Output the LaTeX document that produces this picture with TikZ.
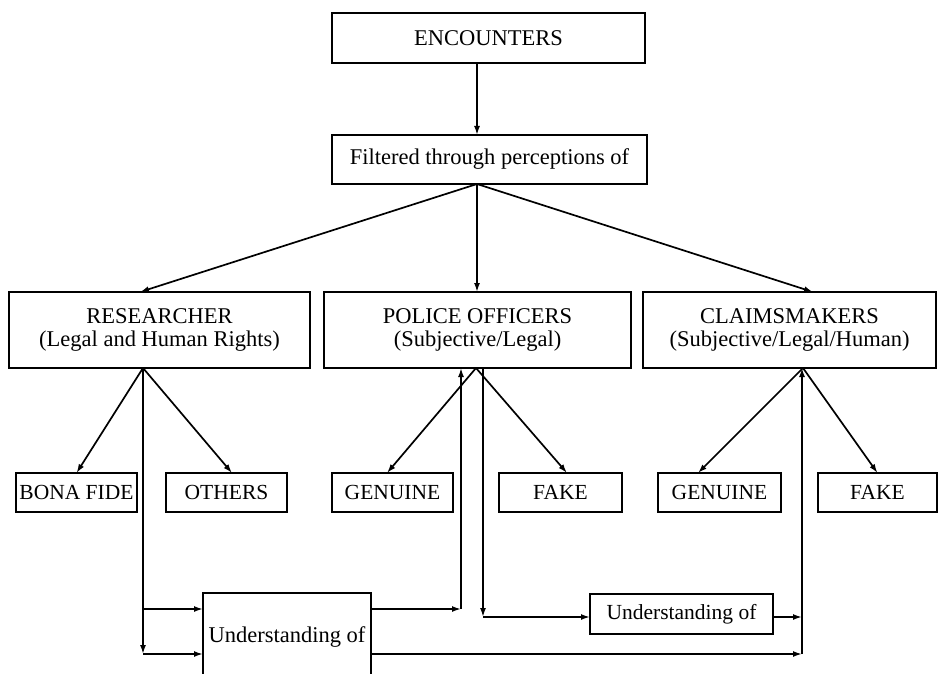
\documentclass[tikz,border=0pt]{standalone}
\usepackage{fontspec}
\setmainfont{Liberation Serif}
\usetikzlibrary{arrows.meta,calc}

\begin{document}
\begin{tikzpicture}[x=1pt,y=-1pt,inner sep=0pt,outer sep=0pt,line width=1.2pt,
box/.style={draw,rectangle,align=center,line width=1.3pt,font=\fontsize{22.5}{23.5}\selectfont},
bigbox/.style={box,minimum height=76pt},
smallbox/.style={box,minimum height=39pt,font=\fontsize{21.5}{23}\selectfont},
link/.style={->,line width=1.7pt},
>={Latex[length=9pt,width=6pt]}]

\useasboundingbox (0,0) rectangle (939,674);
\clip (0,0) rectangle (939,674);

% top of the chart
\node[box,minimum width=313pt,minimum height=50pt] (enc) at (488.5,38) {ENCOUNTERS};
\node[box,minimum width=315pt,minimum height=49pt] (filt) at (489.5,159.5) {Filtered through perceptions of};

% the three viewpoints
\node[bigbox,minimum width=301pt] (res) at (159.5,330) {RESEARCHER\\(Legal and Human Rights)};
\node[bigbox,minimum width=307pt] (pol) at (477.5,330) {POLICE OFFICERS\\(Subjective/Legal)};
\node[bigbox,minimum width=293pt] (clm) at (789.5,330) {CLAIMSMAKERS\\(Subjective/Legal/Human)};

% categories
\node[smallbox,minimum width=121pt] (bona) at (76.5,492.5) {BONA FIDE};
\node[smallbox,minimum width=121pt] (oth) at (226.5,492.5) {OTHERS};
\node[smallbox,minimum width=121pt] (gen1) at (392.5,492.5) {GENUINE};
\node[smallbox,minimum width=123pt] (fake1) at (560.5,492.5) {FAKE};
\node[smallbox,minimum width=123pt] (gen2) at (719.5,492.5) {GENUINE};
\node[smallbox,minimum width=119pt] (fake2) at (877.5,492.5) {FAKE};

% understanding boxes
\node[box,minimum width=168pt,minimum height=88pt] (und1) at (287,637) {Understanding of};
\node[smallbox,minimum width=183pt,minimum height=40pt] (und2) at (681.5,614) {Understanding of};

% branching points
\coordinate (fa) at (477,184);
\coordinate (ra) at ($(res.south)+(-16.5,0)$);
\coordinate (pa) at ($(pol.south)+(-1.5,0)$);
\coordinate (ca) at ($(clm.south)+(13.5,0)$);
\coordinate (d1) at (143,654);
\coordinate (d2) at (143,609);
\coordinate (e1) at (461,609);
\coordinate (e2) at (483,617);
\coordinate (e3) at (802,617);
\coordinate (e4) at (802,654);

\draw[link] (enc.south -| fa) -- (filt.north -| fa);
\draw[link] (fa) -- ($(res.north)+(-19.5,0)$);
\draw[link] (fa) -- (pol.north -| fa);
\draw[link] (fa) -- ($(clm.north)+(23.5,0)$);

\draw[link] (ra) -- (bona.north);
\draw[link] (ra) -- ($(oth.north)+(5.5,0)$);
\draw[link] (pa) -- ($(gen1.north)+(-5.5,0)$);
\draw[link] (pa) -- ($(fake1.north)+(6.5,0)$);
\draw[link] (ca) -- ($(gen2.north)+(-21.5,0)$);
\draw[link] (ca) -- (fake2.north);

% feedback through understanding
\draw[link] (ra) -- (d1);
\draw[link] (d2) -- (d2 -| und1.west);
\draw[link] (d1) -- (d1 -| und1.west);
\draw[link] (e1 -| und1.east) -- (e1);
\draw[link] (e1) -- (e1 |- pol.south);
\draw[link] (e2 |- pol.south) -- (e2);
\draw[link] (e2) -- (e2 -| und2.west);
\draw[link] (e3 -| und2.east) -- (e3);
\draw[link] (d1 -| und1.east) -- (e4);
\draw[link] (e4) -- (e4 |- clm.south);
\end{tikzpicture}
\end{document}
